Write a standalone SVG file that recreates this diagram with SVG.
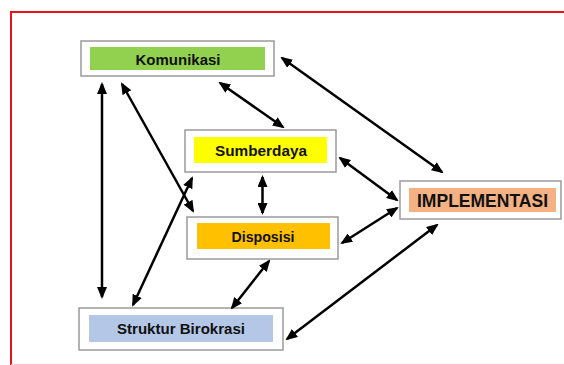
<svg xmlns="http://www.w3.org/2000/svg" width="564" height="365" viewBox="0 0 564 365">
<defs>
<style>
.outer{fill:#fff;stroke:#9a9a9a;stroke-width:1.5}
.lbl{font-family:"Liberation Sans",Arial,sans-serif;font-weight:bold;fill:#111;text-anchor:middle;dominant-baseline:central}
.con line{stroke:#000;stroke-width:2.5;marker-start:url(#ah);marker-end:url(#ah)}
</style>
<marker id="ah" markerUnits="userSpaceOnUse" markerWidth="12" markerHeight="10" refX="10" refY="5" orient="auto-start-reverse" viewBox="0 0 12 10">
<path d="M0,0 L12,5 L0,10 Z" fill="#000"/>
</marker>
</defs>
<rect width="564" height="365" fill="#fff"/>
<path d="M11,365 V12 H564" fill="none" stroke="#e8141c" stroke-width="2"/>
<line x1="11" y1="364.5" x2="564" y2="364.5" stroke="#f7c6c8" stroke-width="1"/>

<g id="komunikasi">
<rect class="outer" x="81" y="41" width="193" height="35"/>
<rect x="90" y="47" width="175" height="23" fill="#92d050"/>
<text class="lbl" x="178" y="59" font-size="15" textLength="85" lengthAdjust="spacingAndGlyphs">Komunikasi</text>
</g>
<g id="sumberdaya">
<rect class="outer" x="185" y="130" width="151" height="42"/>
<rect x="194" y="137" width="133" height="26" fill="#ffff00"/>
<text class="lbl" x="261" y="150" font-size="15" textLength="92" lengthAdjust="spacingAndGlyphs">Sumberdaya</text>
</g>
<g id="disposisi">
<rect class="outer" x="187" y="217" width="151" height="42"/>
<rect x="197" y="223" width="133" height="26" fill="#ffc000"/>
<text class="lbl" x="263" y="236" font-size="15" textLength="63" lengthAdjust="spacingAndGlyphs">Disposisi</text>
</g>
<g id="implementasi">
<rect class="outer" x="400" y="181" width="161" height="38"/>
<rect x="409" y="188" width="147" height="24" fill="#f4b183"/>
<text class="lbl" x="482.5" y="201" font-size="18" textLength="131" lengthAdjust="spacingAndGlyphs">IMPLEMENTASI</text>
</g>
<g id="struktur">
<rect class="outer" x="79" y="308" width="204" height="42"/>
<rect x="89" y="315" width="184" height="27" fill="#b4c7e7"/>
<text class="lbl" x="181" y="328" font-size="15" textLength="128" lengthAdjust="spacingAndGlyphs">Struktur Birokrasi</text>
</g>

<g id="connectors" class="con">
<line x1="102" y1="84" x2="102" y2="297"/>
<line x1="122" y1="84" x2="193" y2="211"/>
<line x1="220" y1="83" x2="283" y2="127"/>
<line x1="282" y1="58" x2="442" y2="172"/>
<line x1="262.5" y1="177" x2="262.5" y2="213"/>
<line x1="340" y1="158" x2="397" y2="200"/>
<line x1="397" y1="208" x2="342" y2="243"/>
<line x1="133" y1="305" x2="192" y2="178"/>
<line x1="269" y1="261" x2="232" y2="308"/>
<line x1="437" y1="225" x2="287" y2="339"/>
</g>
</svg>
